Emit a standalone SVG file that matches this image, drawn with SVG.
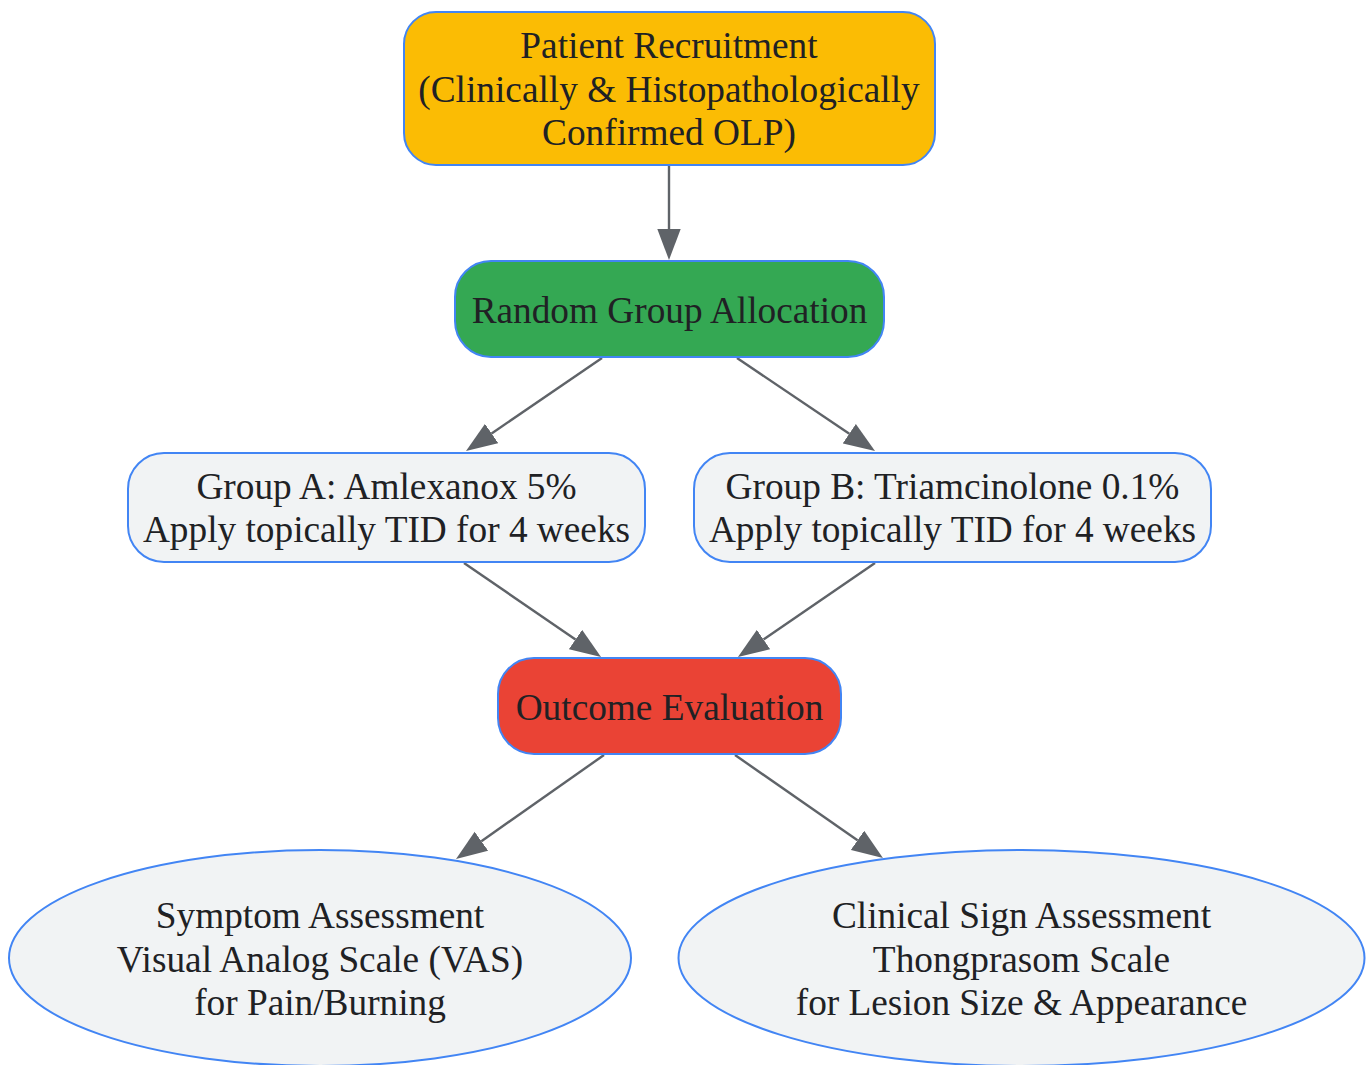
<svg xmlns="http://www.w3.org/2000/svg" width="1367" height="1065" viewBox="0 0 1367 1065">
<style>
.n{stroke:#4285F4;stroke-width:2}
.t{font-family:"Liberation Serif","Times New Roman",serif;font-size:37.3px;fill:#202124;text-anchor:middle}
.e{stroke:#5F6368;stroke-width:2.4;fill:none;marker-end:url(#ah)}
</style>
<defs>
<marker id="ah" markerUnits="userSpaceOnUse" viewBox="0 -12 31 24" markerWidth="31" markerHeight="24" refX="0" refY="0" orient="auto">
<path d="M0,-11.7 L31,0 L0,11.7 z" fill="#5F6368"/>
</marker>
</defs>
<rect width="1367" height="1065" fill="#ffffff"/>
<g id="edges">
<path class="e" d="M669,165 L669,229"/>
<path class="e" d="M602,358 L491.6,433.5"/>
<path class="e" d="M737,358 L849.3,433.7"/>
<path class="e" d="M464,563 L575.5,639.5"/>
<path class="e" d="M875,563 L763.5,639.5"/>
<path class="e" d="M604,755 L481.4,841.2"/>
<path class="e" d="M735,755 L857.5,840.3"/>
</g>
<g id="recruit">
<rect class="n" x="404" y="12" width="531" height="153" rx="32" fill="#FBBC04"/>
<text class="t" x="669" y="58">Patient Recruitment</text>
<text class="t" x="669" y="101.5">(Clinically &amp; Histopathologically</text>
<text class="t" x="669" y="145">Confirmed OLP)</text>
</g>
<g id="random">
<rect class="n" x="455" y="261" width="429" height="96" rx="36" fill="#34A853"/>
<text class="t" x="669.5" y="323">Random Group Allocation</text>
</g>
<g id="groupA">
<rect class="n" x="128" y="453" width="517" height="109" rx="36" fill="#F1F3F4"/>
<text class="t" x="386.5" y="498.5">Group A: Amlexanox 5%</text>
<text class="t" x="386.5" y="542">Apply topically TID for 4 weeks</text>
</g>
<g id="groupB">
<rect class="n" x="694" y="453" width="517" height="109" rx="36" fill="#F1F3F4"/>
<text class="t" x="952.5" y="498.5">Group B: Triamcinolone 0.1%</text>
<text class="t" x="952.5" y="542">Apply topically TID for 4 weeks</text>
</g>
<g id="outcome">
<rect class="n" x="498" y="658" width="343" height="96" rx="36" fill="#EA4335"/>
<text class="t" x="669.5" y="720">Outcome Evaluation</text>
</g>
<g id="symptom">
<ellipse class="n" cx="320" cy="958" rx="311" ry="108" fill="#F1F3F4"/>
<text class="t" x="320" y="928">Symptom Assessment</text>
<text class="t" x="320" y="971.5">Visual Analog Scale (VAS)</text>
<text class="t" x="320" y="1015">for Pain/Burning</text>
</g>
<g id="clinical">
<ellipse class="n" cx="1021.5" cy="958" rx="343" ry="108" fill="#F1F3F4"/>
<text class="t" x="1021.5" y="928">Clinical Sign Assessment</text>
<text class="t" x="1021.5" y="971.5">Thongprasom Scale</text>
<text class="t" x="1021.5" y="1015">for Lesion Size &amp; Appearance</text>
</g>
</svg>
